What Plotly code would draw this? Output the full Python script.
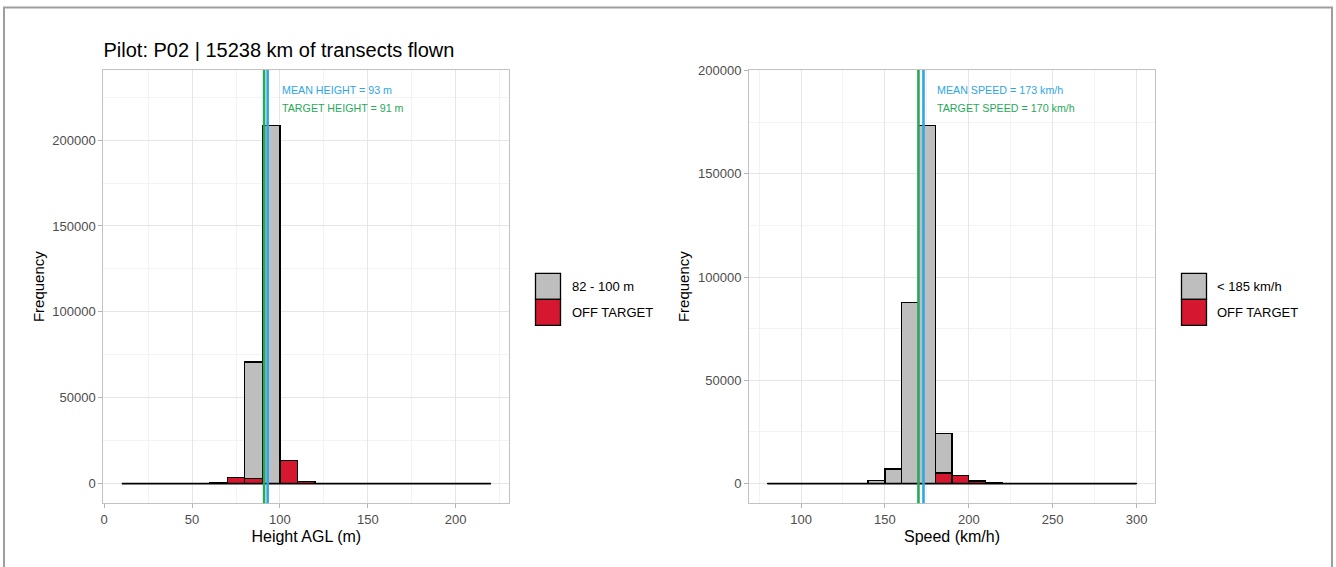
import plotly.graph_objects as go

# ---------------- data ----------------
pilot = "P02"
km_flown = 15238

# Height histogram (bin width 10 m)
height_bin_start = [10, 20, 30, 40, 50, 60, 70, 80, 90, 100, 110, 120, 130, 140, 150, 160, 170, 180, 190, 200, 210]
height_in_target = [0, 0, 0, 0, 0, 0, 0, 68000, 208500, 0, 0, 0, 0, 0, 0, 0, 0, 0, 0, 0, 0]
height_off_target = [0, 0, 0, 0, 0, 600, 3700, 2800, 0, 13500, 1100, 250, 0, 0, 0, 0, 0, 0, 0, 0, 0]
mean_height = 93
target_height = 91
height_labels = ["82 - 100 m", "OFF TARGET"]

# Speed histogram (bin width 10 km/h)
speed_bin_start = [80, 90, 100, 110, 120, 130, 140, 150, 160, 170, 180, 190, 200, 210, 220, 230, 240, 250, 260, 270, 280, 290]
speed_in_target = [0, 0, 0, 0, 0, 0, 1400, 7100, 87800, 173450, 19000, 0, 0, 0, 0, 0, 0, 0, 0, 0, 0, 0]
speed_off_target = [0, 0, 0, 0, 0, 0, 0, 0, 0, 0, 5200, 3900, 1300, 250, 0, 0, 0, 0, 0, 0, 0, 0]
mean_speed = 173
target_speed = 170
speed_labels = ["< 185 km/h", "OFF TARGET"]

bin_width = 10

# ---------------- style ----------------
W, H = 1336, 567
FONT = "Liberation Sans, Arial, sans-serif"
GREY = "#BEBEBE"
RED = "#D5172F"
BLUE = "#2EA6E6"
GREEN = "#27A95A"
GRID = "#E6E6E6"
MINOR = "#F3F3F3"
BORDER = "#C2C2C2"


def px_x(p):
    return p / W


def px_y(p):
    return 1 - p / H


panel_y = [px_y(503.3), px_y(70)]
panels = [
    dict(xa="x", ya="y", dom=[px_x(103.3), px_x(509.3)]),
    dict(xa="x2", ya="y2", dom=[px_x(749), px_x(1155)]),
]

fig = go.Figure()


def add_hist(starts, inside, off, xa, ya):
    centers = [s + bin_width / 2 for s in starts]
    fig.add_trace(go.Bar(x=centers, y=off, width=bin_width, marker=dict(color=RED, line=dict(color="black", width=1.3)),
                         xaxis=xa, yaxis=ya, showlegend=False, hoverinfo="x+y"))
    fig.add_trace(go.Bar(x=centers, y=inside, width=bin_width, marker=dict(color=GREY, line=dict(color="black", width=1.3)),
                         xaxis=xa, yaxis=ya, showlegend=False, hoverinfo="x+y"))
    # baseline drawn by the zero-height bins in the original
    fig.add_trace(go.Scatter(x=[starts[0], starts[-1] + bin_width], y=[0, 0], mode="lines",
                             line=dict(color="black", width=1.6), xaxis=xa, yaxis=ya,
                             showlegend=False, hoverinfo="skip"))
    totals = [a + b for a, b in zip(inside, off)]
    lo, hi = starts[0], starts[-1] + bin_width
    span = hi - lo
    top = max(totals) * 1.1
    return [lo - 0.05 * span, hi + 0.05 * span], [-0.05 * top, 1.05 * top], max(totals)


xr1, yr1, m1 = add_hist(height_bin_start, height_in_target, height_off_target, "x", "y")
xr2, yr2, m2 = add_hist(speed_bin_start, speed_in_target, speed_off_target, "x2", "y2")

axis_common = dict(
    showgrid=True, gridcolor=GRID, gridwidth=1,
    showline=True, linecolor=BORDER, linewidth=1, mirror=True,
    ticks="outside", ticklen=4, tickcolor="#B3B3B3", tickwidth=1,
    zeroline=False, tickformat="d", automargin=False,
    tickfont=dict(family=FONT, size=13, color="#4D4D4D"),
)

fig.update_layout(
    template="none",
    width=W, height=H,
    margin=dict(l=0, r=0, t=0, b=0, pad=0, autoexpand=False),
    paper_bgcolor="white", plot_bgcolor="white",
    barmode="stack",
    showlegend=False,
    font=dict(family=FONT, color="black"),
    title=dict(text=f"Pilot: {pilot} | {km_flown} km of transects flown",
               x=px_x(103.5), xanchor="left", xref="paper",
               y=px_y(50), yanchor="middle", yref="paper", automargin=False,
               font=dict(family=FONT, size=20, color="black")),
    xaxis=dict(domain=panels[0]["dom"], anchor="y", range=xr1, tickvals=[0, 50, 100, 150, 200],
               minor=dict(tickvals=[25, 75, 125, 175, 225], showgrid=True, gridcolor=MINOR, ticks=""),
               title=dict(text="Height AGL (m)", font=dict(family=FONT, size=16, color="black"), standoff=4),
               **axis_common),
    yaxis=dict(domain=panel_y, anchor="x", range=yr1, tickvals=[0, 50000, 100000, 150000, 200000],
               minor=dict(tickvals=[25000, 75000, 125000, 175000, 225000], showgrid=True, gridcolor=MINOR, ticks=""),
               title=dict(text="Frequency", font=dict(family=FONT, size=15, color="black"), standoff=4),
               **axis_common),
    xaxis2=dict(domain=panels[1]["dom"], anchor="y2", range=xr2, tickvals=[100, 150, 200, 250, 300],
                minor=dict(tickvals=[75, 125, 175, 225, 275], showgrid=True, gridcolor=MINOR, ticks=""),
                title=dict(text="Speed (km/h)", font=dict(family=FONT, size=16, color="black"), standoff=4),
                **axis_common),
    yaxis2=dict(domain=panel_y, anchor="x2", range=yr2, tickvals=[0, 50000, 100000, 150000, 200000],
                minor=dict(tickvals=[25000, 75000, 125000, 175000], showgrid=True, gridcolor=MINOR, ticks=""),
                title=dict(text="Frequency", font=dict(family=FONT, size=15, color="black"), standoff=4),
                **axis_common),
)

# reference lines + labels
for xa, ya, tgt, mean, mx, tlabel, mlabel in [
    ("x", "y", target_height, mean_height, m1, f"TARGET HEIGHT = {target_height} m", f"MEAN HEIGHT = {mean_height} m"),
    ("x2", "y2", target_speed, mean_speed, m2, f"TARGET SPEED = {target_speed} km/h", f"MEAN SPEED = {mean_speed} km/h"),
]:
    fig.add_shape(type="line", xref=xa, yref=f"{ya} domain", x0=tgt, x1=tgt, y0=0, y1=1,
                  line=dict(color=GREEN, width=2.6), layer="above")
    fig.add_shape(type="line", xref=xa, yref=f"{ya} domain", x0=mean, x1=mean, y0=0, y1=1,
                  line=dict(color=BLUE, width=2.6), layer="above")
    fig.add_annotation(xref=xa, yref=ya, x=mean + 7, y=mx * 1.1, text=mlabel, showarrow=False,
                       xanchor="left", yanchor="middle", font=dict(family=FONT, size=10.7, color=BLUE))
    fig.add_annotation(xref=xa, yref=ya, x=mean + 7, y=mx * 1.05, text=tlabel, showarrow=False,
                       xanchor="left", yanchor="middle", font=dict(family=FONT, size=10.7, color=GREEN))

# legends (drawn as key boxes + labels, like the ggplot guides)
for key_x, text_x, labels in [(535.5, 569.5, height_labels), (1181.5, 1215, speed_labels)]:
    for i, (lab, col) in enumerate(zip(labels, [GREY, RED])):
        y0 = 273.3 + i * 26
        fig.add_shape(type="rect", xref="paper", yref="paper",
                      x0=px_x(key_x), x1=px_x(key_x + 25), y0=px_y(y0 + 26), y1=px_y(y0),
                      fillcolor=col, line=dict(color="black", width=1.3))
        fig.add_annotation(xref="paper", yref="paper", x=px_x(text_x), y=px_y(y0 + 13), text=lab,
                           showarrow=False, xanchor="left", yanchor="middle",
                           font=dict(family=FONT, size=13, color="black"))

# outer frame
fig.add_shape(type="rect", xref="paper", yref="paper", x0=px_x(4), x1=px_x(1332), y0=px_y(575), y1=px_y(7.5),
              line=dict(color="#9E9E9E", width=2), fillcolor="rgba(0,0,0,0)", layer="below")

fig.write_html(
    "out.html",
    config={"displayModeBar": False},
    post_script=(
        "document.body.style.margin='0';document.body.style.padding='0';"
        "document.documentElement.style.overflow='hidden';"
        "var d=document.getElementById('{plot_id}');"
        "d.style.position='fixed';d.style.left='0px';d.style.top='0px';"
    ),
)
